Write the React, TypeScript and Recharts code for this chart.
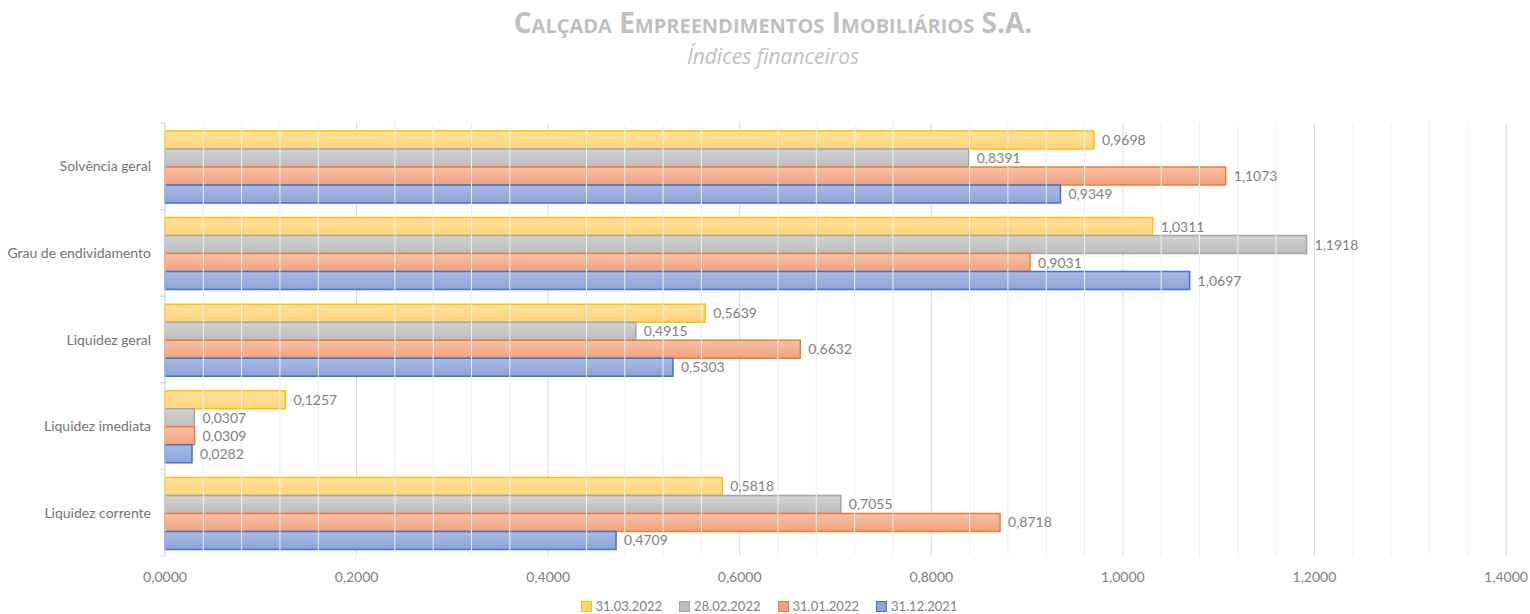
import React from 'react';
import { BarChart, Bar, XAxis, YAxis, CartesianGrid, ReferenceLine, LabelList } from 'recharts';

const categories = ['Solvência geral', 'Grau de endividamento', 'Liquidez geral', 'Liquidez imediata', 'Liquidez corrente'];
const mar2022 = [0.9698, 1.0311, 0.5639, 0.1257, 0.5818];
const feb2022 = [0.8391, 1.1918, 0.4915, 0.0307, 0.7055];
const jan2022 = [1.1073, 0.9031, 0.6632, 0.0309, 0.8718];
const dec2021 = [0.9349, 1.0697, 0.5303, 0.0282, 0.4709];
const majorTicks = [0, 0.2, 0.4, 0.6, 0.8, 1.0, 1.2, 1.4];
const minorTicks = [
  0.04, 0.08, 0.12, 0.16, 0.24, 0.28, 0.32, 0.36, 0.44, 0.48, 0.52, 0.56,
  0.64, 0.68, 0.72, 0.76, 0.84, 0.88, 0.92, 0.96, 1.04, 1.08, 1.12, 1.16,
  1.24, 1.28, 1.32, 1.36,
];

const series = [
  { key: 'mar', name: '31.03.2022', values: mar2022, top: '#FFE09E', bottom: '#FFD478', stroke: '#FFC000' },
  { key: 'feb', name: '28.02.2022', values: feb2022, top: '#D2D2D2', bottom: '#BCBCBC', stroke: '#A5A5A5' },
  { key: 'jan', name: '31.01.2022', values: jan2022, top: '#F7C1A8', bottom: '#F0A27E', stroke: '#ED7D31' },
  { key: 'dec', name: '31.12.2021', values: dec2021, top: '#AABAE4', bottom: '#8DA3D7', stroke: '#4472C4' },
];

const data = categories.map((name, i) => {
  const row: any = { name };
  series.forEach(s => { row[s.key] = s.values[i]; });
  return row;
});

const font = 'Lato, "Open Sans", sans-serif';
const fmt = (v: any) => Number(v).toFixed(4).replace('.', ',');

const CatTick = (props: any) => {
  const { x, y, payload } = props;
  const half = payload.offset || 0;
  return (
    <g>
      <text x={x - 6} y={y} dy={5} textAnchor="end" fill="#737373" fontSize={14} fontFamily={font}>
        {payload.value}
      </text>
      <line x1={x + 3} x2={x + 8} y1={y - half} y2={y - half} stroke="#D9D9D9" />
      <line x1={x + 3} x2={x + 8} y1={y + half} y2={y + half} stroke="#D9D9D9" />
    </g>
  );
};

export default function App() {
  return (
    <div style={{ position: 'absolute', left: 0, top: 0, width: 1530, height: 614, background: '#fff', fontFamily: font }}>
      <div style={{ position: 'absolute', top: 3, width: 1546, textAlign: 'center', fontSize: 28, fontWeight: 700, fontVariant: 'small-caps', color: '#BFBFBF', fontFamily: '"Open Sans", sans-serif' }}>
        Calçada Empreendimentos Imobiliários S.A.
      </div>
      <div style={{ position: 'absolute', top: 42, width: 1546, textAlign: 'center', fontSize: 21, fontStyle: 'italic', color: '#BFBFBF', fontFamily: '"Open Sans", sans-serif' }}>
        Índices financeiros
      </div>
      <BarChart
        width={1530}
        height={614}
        data={data}
        layout="vertical"
        margin={{ top: 123, right: 24, left: 0, bottom: 28 }}
        barCategoryGap={8}
        barGap={0}
      >
        <defs>
          {series.map(s => (
            <linearGradient key={s.key} id={'g-' + s.key} x1="0" y1="0" x2="0" y2="1">
              <stop offset="0%" stopColor={s.top} />
              <stop offset="100%" stopColor={s.bottom} />
            </linearGradient>
          ))}
        </defs>
        {minorTicks.map(v => (
          <ReferenceLine key={v} x={v} stroke="#F0F0F0" strokeWidth={1} />
        ))}
        <CartesianGrid horizontal={false} stroke="#D9D9D9" />
        <XAxis
          type="number"
          domain={[0, 1.4]}
          ticks={majorTicks}
          tickFormatter={fmt}
          axisLine={false}
          tickLine={false}
          height={30}
          tick={{ fill: '#7F7F7F', fontSize: 14, fontFamily: font }}
          tickMargin={10}
        />
        <YAxis
          type="category"
          dataKey="name"
          width={165}
          axisLine={{ stroke: '#D9D9D9' }}
          tickLine={false}
          tick={<CatTick />}
          interval={0}
        />
        {series.map(s => (
          <Bar
            key={s.key}
            dataKey={s.key}
            name={s.name}
            fill={`url(#g-${s.key})`}
            stroke={s.stroke}
            strokeWidth={1.5}
            isAnimationActive={false}
          >
            <LabelList dataKey={s.key} position="right" offset={8} formatter={fmt} fill="#7F7F7F" fontSize={14} fontFamily={font} />
          </Bar>
        ))}
      </BarChart>
      <div style={{ position: 'absolute', top: 598, left: 4, width: 1530, display: 'flex', justifyContent: 'center', gap: 17, fontSize: 13, color: '#7F7F7F' }}>
        {series.map(s => (
          <div key={s.key} style={{ display: 'flex', alignItems: 'center', gap: 4 }}>
            <span style={{ display: 'inline-block', width: 9, height: 9, background: s.bottom, border: `1px solid ${s.stroke}` }} />
            <span>{s.name}</span>
          </div>
        ))}
      </div>
    </div>
  );
}
